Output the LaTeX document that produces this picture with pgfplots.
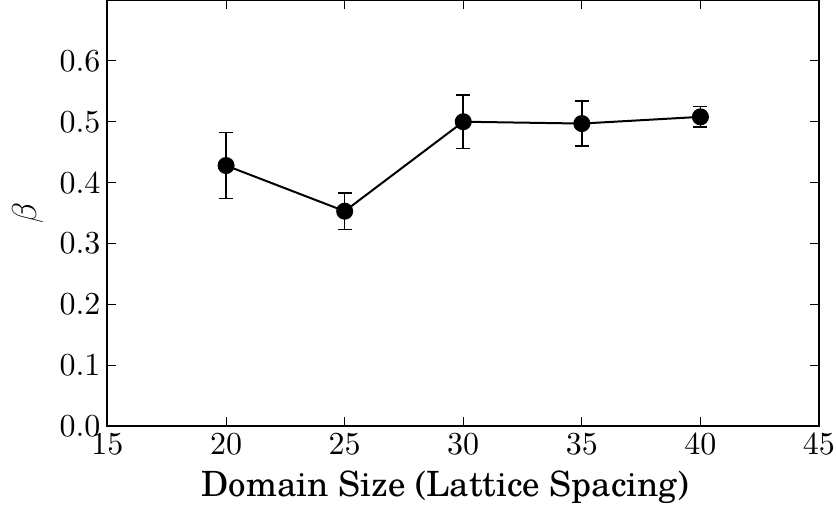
\documentclass[border=0pt]{standalone}
\usepackage{fontspec}
\setmainfont{lmroman10-regular}[Extension=.otf]
\newfontfamily\schola{texgyreschola-regular}[Extension=.otf]
\usepackage{pgfplots}
\pgfplotsset{compat=1.18}
\pgfplotstableread{
x y e
20 0.428 0.054
25 0.353 0.030
30 0.500 0.044
35 0.497 0.037
40 0.508 0.017
}\datatable
\begin{document}
\begin{tikzpicture}
\path[use as bounding box] (-53.75pt,-42pt) rectangle (364.25pt,213pt);
\begin{axis}[
  at={(0,0)}, anchor=south west,
  scale only axis,
  width=355.75pt, height=213pt,
  xmin=15, xmax=45, ymin=0, ymax=0.7,
  xtick={15,20,...,45},
  ytick={0,0.1,0.2,0.3,0.4,0.5,0.6},
  /pgf/number format/assume math mode=true,
  yticklabel style={/pgf/number format/.cd, fixed, fixed zerofill, precision=1, assume math mode=true},
  tick align=inside,
  major tick length=4.5pt,
  tick style={line width=0.5pt, black},
  axis line style={line width=1pt},
  ticklabel style={font=\fontsize{16}{19}\selectfont},
  xlabel={Domain Size (Lattice Spacing)},
  ylabel={$\beta$},
  xlabel style={font=\schola\fontsize{17.4}{20}\selectfont, at={(axis description cs:0.475,-0.166)}, anchor=base},
  ylabel style={font=\fontsize{19}{22}\selectfont, at={(axis description cs:-0.1124,0.5)}, anchor=center},
  clip=false,
]
\addplot+[black, line width=1pt, mark=*, mark size=3.75pt,
  mark options={black, fill=black},
  error bars/.cd, y dir=both, y explicit,
  error bar style={line width=0.8pt, black},
  error mark options={rotate=90, mark size=3.5pt, line width=0.8pt, black}]
  table[x=x, y=y, y error=e] {\datatable};
\end{axis}
\end{tikzpicture}
\end{document}
